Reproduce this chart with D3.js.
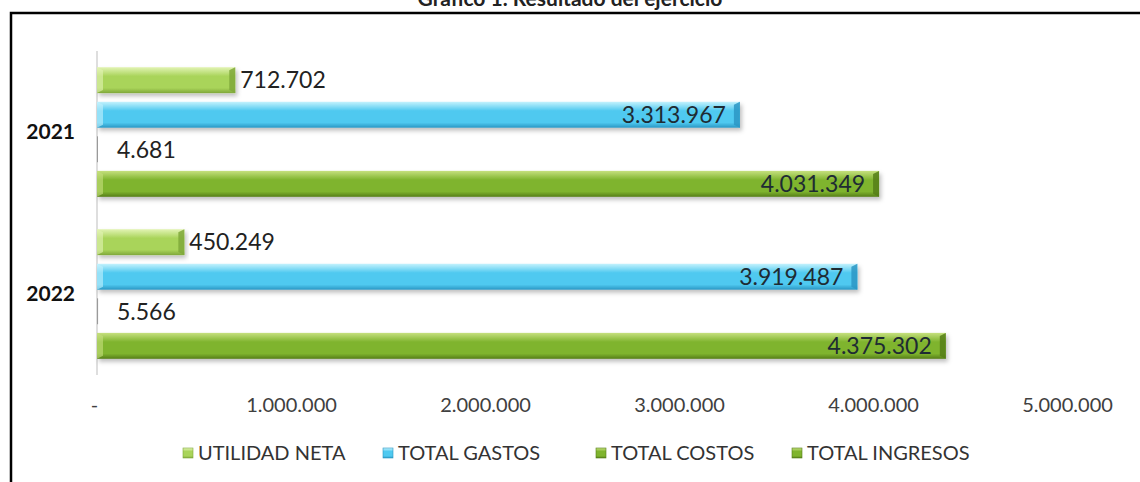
<!DOCTYPE html>
<html>
<head>
<meta charset="utf-8">
<script src="https://cdn.jsdelivr.net/npm/d3@7"></script>
<style>
  body { margin: 0; background: #fff; }
  svg { display: block; font-family: Lato, "Open Sans", sans-serif; }
</style>
</head>
<body>
<svg id="chart" width="1140" height="482"></svg>
<script>
const years = ["2021", "2022"];
const seriesNames = ["UTILIDAD NETA", "TOTAL GASTOS", "TOTAL COSTOS", "TOTAL INGRESOS"];
const utilidadNeta = [712702, 450249];
const totalGastos = [3313967, 3919487];
const totalCostos = [4681, 5566];
const totalIngresos = [4031349, 4375302];
const tickValues = [0, 1000000, 2000000, 3000000, 4000000, 5000000];

const seriesValues = [utilidadNeta, totalGastos, totalCostos, totalIngresos];
const fmt = v => v === 0 ? "-" : d3.format(",")(v).replace(/,/g, ".");

// colour ramps: light top, base, dark bottom
const palette = {
  "UTILIDAD NETA": ["#e2f3b4", "#a9d45a", "#7fa83a"],
  "TOTAL GASTOS": ["#c4f2fd", "#4fc9f0", "#2b97c4"],
  "TOTAL COSTOS": ["#c6e07e", "#7fb42e", "#557e18"],
  "TOTAL INGRESOS": ["#c6e07e", "#7fb42e", "#557e18"]
};

const svg = d3.select("#chart");
const defs = svg.append("defs");

seriesNames.forEach((s, i) => {
  const c = palette[s];
  const g = defs.append("linearGradient").attr("id", "grad" + i)
    .attr("x1", 0).attr("y1", 0).attr("x2", 0).attr("y2", 1);
  g.append("stop").attr("offset", "0%").attr("stop-color", c[0]);
  g.append("stop").attr("offset", "35%").attr("stop-color", c[1]);
  g.append("stop").attr("offset", "80%").attr("stop-color", c[1]);
  g.append("stop").attr("offset", "100%").attr("stop-color", c[2]);
});

const shadow = defs.append("filter").attr("id", "shadow")
  .attr("x", "-5%").attr("y", "-20%").attr("width", "110%").attr("height", "160%");
shadow.append("feDropShadow").attr("dx", 2).attr("dy", 3)
  .attr("stdDeviation", 2).attr("flood-color", "#000").attr("flood-opacity", 0.25);

// frame and title
svg.append("rect")
  .attr("x", 11).attr("y", 13).attr("width", 1140).attr("height", 480)
  .attr("fill", "none").attr("stroke", "#000").attr("stroke-width", 2.5);

svg.append("text")
  .attr("x", 570).attr("y", 6)
  .attr("text-anchor", "middle")
  .attr("font-weight", "bold").attr("font-size", 21)
  .attr("fill", "#222")
  .text("Gráfico 1. Resultado del ejercicio");

const x = d3.scaleLinear().domain([0, 5000000]).range([97, 1067]);

const y0 = d3.scaleBand().domain(years).range([51, 375])
  .paddingInner(0.2).paddingOuter(0.1);

const y1 = d3.scaleBand().domain(seriesNames).range([0, y0.bandwidth()])
  .paddingInner(0.25);

// x axis labels (no line)
const xAxis = svg.append("g")
  .attr("transform", "translate(0,395)")
  .call(d3.axisBottom(x).tickValues(tickValues).tickFormat(fmt).tickSize(0));
xAxis.select(".domain").remove();
xAxis.selectAll("text")
  .attr("font-family", "Lato, sans-serif")
  .attr("font-size", 20).attr("fill", "#404040");
xAxis.selectAll(".tick").filter(d => d === 0).select("text").attr("dx", -3);

// y axis
const yAxis = svg.append("g")
  .attr("transform", "translate(97,0)")
  .call(d3.axisLeft(y0).tickSize(0).tickPadding(22));
yAxis.select(".domain").attr("stroke", "#c8c8c8").attr("stroke-width", 1.2)
  .attr("d", "M0,51V375");
yAxis.selectAll("text")
  .attr("font-family", "Lato, sans-serif")
  .attr("font-size", 21).attr("font-weight", "bold").attr("fill", "#111");

// bars
const rows = [];
years.forEach((yr, yi) => {
  seriesNames.forEach((s, si) => {
    rows.push({year: yr, series: s, si: si, value: seriesValues[si][yi]});
  });
});

const groups = svg.append("g").selectAll("g")
  .data(rows)
  .join("g")
  .attr("transform", d => `translate(0,${y0(d.year) + y1(d.series)})`);

groups.append("rect")
  .attr("x", x(0))
  .attr("y", 0)
  .attr("width", d => Math.max(1, x(d.value) - x(0)))
  .attr("height", y1.bandwidth())
  .attr("fill", d => d.value < 20000 ? "#9a9a9a" : `url(#grad${d.si})`)
  .attr("filter", d => d.value < 20000 ? null : "url(#shadow)");

// bevelled ends
groups.filter(d => d.value >= 20000).append("path")
  .attr("d", d => {
    const xe = x(d.value), h = y1.bandwidth(), b = 6;
    return `M${xe - b},${b / 2}L${xe},0L${xe},${h}L${xe - b},${h - b / 2}Z`;
  })
  .attr("fill", d => palette[d.series][2])
  .attr("opacity", 0.85);
groups.filter(d => d.value >= 20000).append("path")
  .attr("d", d => {
    const x0 = x(0), h = y1.bandwidth(), b = 6;
    return `M${x0},0L${x0 + b},${b / 2}L${x0 + b},${h - b / 2}L${x0},${h}Z`;
  })
  .attr("fill", d => palette[d.series][0])
  .attr("opacity", 0.6);

// value labels
groups.append("text")
  .attr("x", d => {
    if (d.value > 1000000) return x(d.value) - 14;
    return Math.max(x(d.value) + 5, x(0) + 20);
  })
  .attr("y", y1.bandwidth() / 2)
  .attr("dy", "0.36em")
  .attr("text-anchor", d => d.value > 1000000 ? "end" : "start")
  .attr("font-size", 23)
  .attr("fill", d => d.value > 1000000 ? "#1e2b33" : "#222")
  .text(d => fmt(d.value));

// legend
const legendX = [183, 383, 596, 792];
const legend = svg.append("g").selectAll("g")
  .data(seriesNames)
  .join("g")
  .attr("transform", (d, i) => `translate(${legendX[i]},453)`);

legend.append("rect")
  .attr("x", 0).attr("y", -5).attr("width", 10).attr("height", 10)
  .attr("fill", (d, i) => `url(#grad${i})`)
  .attr("stroke", d => palette[d][2]).attr("stroke-width", 0.6);

legend.append("text")
  .attr("x", 15).attr("y", 0).attr("dy", "0.36em")
  .attr("font-size", 20).attr("fill", "#333")
  .text(d => d);
</script>
</body>
</html>
